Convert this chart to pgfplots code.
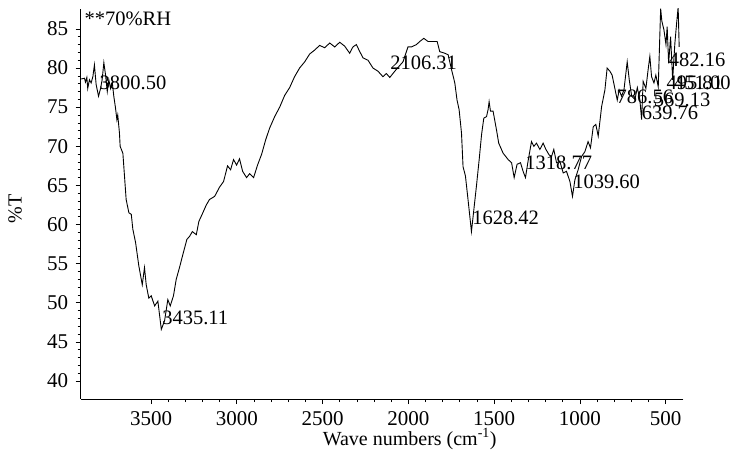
\documentclass[border=0pt]{standalone}
\usepackage{pgfplots}
\pgfplotsset{compat=1.18}
\usepackage{pgfplotstable}
\usepackage{fontspec}
\setmainfont{Liberation Serif}
\pgfplotstableread{
w v
3907 78.6
3888 78.7
3882 78.2
3874 78.8
3869 77.4
3859 78.5
3849 78.1
3839 78.9
3830 80.4
3820 77.9
3806 76.4
3794 77.4
3785 78.5
3775 80.7
3765 79.1
3755 77.0
3746 78.5
3736 77.4
3726 78.2
3717 76.4
3707 74.9
3699 73.4
3694 74.0
3684 71.7
3680 70.0
3664 69.1
3645 63.2
3629 61.5
3615 61.3
3606 59.4
3590 57.7
3571 54.7
3551 52.3
3538 54.5
3528 52.3
3513 50.6
3499 50.9
3479 49.6
3460 50.2
3440 46.6
3421 47.7
3402 50.4
3388 49.6
3369 50.9
3353 53.0
3334 54.5
3314 56.2
3291 58.1
3275 58.5
3259 59.1
3236 58.7
3221 60.4
3198 61.5
3178 62.5
3159 63.2
3129 63.6
3100 64.8
3077 65.5
3054 67.5
3036 67.0
3019 68.3
3001 67.6
2984 68.4
2966 66.8
2943 66.0
2925 66.5
2902 66.0
2879 67.6
2855 69.0
2832 70.8
2809 72.3
2779 73.8
2750 75.0
2721 76.5
2692 77.5
2663 78.9
2634 80.0
2604 80.8
2575 81.8
2546 82.3
2517 82.9
2488 82.6
2458 83.2
2429 82.7
2400 83.3
2371 82.8
2342 81.9
2323 82.7
2303 83.0
2283 82.1
2264 81.3
2235 81.0
2206 80.0
2177 79.6
2148 78.9
2128 79.3
2108 78.8
2079 79.6
2031 80.8
2002 82.7
1982 82.7
1953 83.0
1933 83.4
1910 83.8
1885 83.4
1856 83.4
1832 83.4
1817 82.1
1788 81.9
1768 81.7
1748 79.8
1729 78.1
1716 75.9
1704 74.7
1690 71.7
1681 67.4
1667 66.2
1652 63.2
1632 59.1
1618 61.9
1603 64.9
1587 68.3
1573 71.5
1560 73.6
1544 73.8
1535 74.7
1529 75.7
1521 74.5
1506 74.5
1486 72.1
1473 70.4
1447 69.1
1432 68.7
1418 68.3
1398 67.9
1383 66.0
1366 67.7
1346 67.9
1331 66.8
1317 66.0
1302 68.1
1282 70.6
1268 70.0
1253 70.4
1233 69.6
1214 70.4
1198 69.6
1179 68.9
1165 68.7
1152 69.6
1136 67.9
1117 68.1
1097 66.6
1078 66.8
1058 65.5
1043 63.6
1029 65.7
1010 67.0
990 68.7
971 69.3
952 70.6
938 69.8
922 72.5
907 72.8
893 71.3
873 75.1
854 77.2
841 80.0
825 79.6
812 79.1
796 77.4
782 75.9
771 77.2
757 76.4
743 77.2
724 80.8
712 78.5
698 76.4
679 76.0
665 77.5
650 75.9
640 73.4
631 78.3
615 77.4
602 79.8
592 81.5
582 78.9
568 78.1
557 79.1
543 77.6
529 87.6
522 86.0
510 84.9
498 83.0
491 85.3
482.5 80.6
471 84.0
459 78.5
446 83.2
436 85.7
427 87.8
421 82.7
}\spectrum
\begin{document}
\begin{tikzpicture}
\begin{axis}[
  at={(0,0)}, anchor=south west,
  scale only axis,
  width=602.6bp, height=390bp,
  x dir=reverse,
  xmin=397, xmax=3910,
  ymin=37.7, ymax=87.55,
  axis lines*=left,
  axis line style={line width=0.8bp},
  tick align=outside,
  tick style={black, line width=0.6bp},
  major tick length=5bp,
  minor tick length=3bp,
  xtick={500,1000,...,3500},
  ytick={40,45,...,85},
  minor x tick num=4,
  minor y tick num=4,
  /pgf/number format/assume math mode=true,
  /pgf/number format/1000 sep={},
  ticklabel style={font=\fontsize{21bp}{24bp}\selectfont},
  xticklabel style={yshift=-4bp},
  yticklabel style={xshift=-4bp},
  xlabel={Wave numbers (cm\textsuperscript{-1})},
  ylabel={\%T},
  label style={font=\fontsize{20bp}{24bp}\selectfont},
  xlabel style={at={(axis description cs:0.546,-0.103)}, anchor=center},
  ylabel style={at={(axis description cs:-0.109,0.487)}, anchor=center, rotate=0},
  clip mode=individual,
]
\addplot[black, line width=0.9bp] table[x=w, y=v] {\spectrum};
\begin{scope}[every node/.style={font=\fontsize{20.5bp}{24bp}\selectfont, inner sep=0pt, anchor=west}]
\node at (axis cs:3800.5,78.1) {3800.50};
\node at (axis cs:3435.11,48.1) {3435.11};
\node at (axis cs:2106.31,80.7) {2106.31};
\node at (axis cs:1628.42,60.9) {1628.42};
\node at (axis cs:1318.77,67.9) {1318.77};
\node at (axis cs:1039.60,65.4) {1039.60};
\node at (axis cs:786.56,76.3) {786.56};
\node at (axis cs:569.13,75.9) {569.13};
\node at (axis cs:639.76,74.3) {639.76};
\node at (axis cs:482.16,81.0) {482.16};
\node at (axis cs:495.81,78.1) {495.81};
\node at (axis cs:451.00,78.1) {451.00};
\node at (axis description cs:0.006,0.974) {**70\%RH};
\end{scope}
\end{axis}
\pgfresetboundingbox
\path[use as bounding box] (-80.7bp,-63bp) rectangle (649.3bp,399bp);
\end{tikzpicture}
\end{document}
